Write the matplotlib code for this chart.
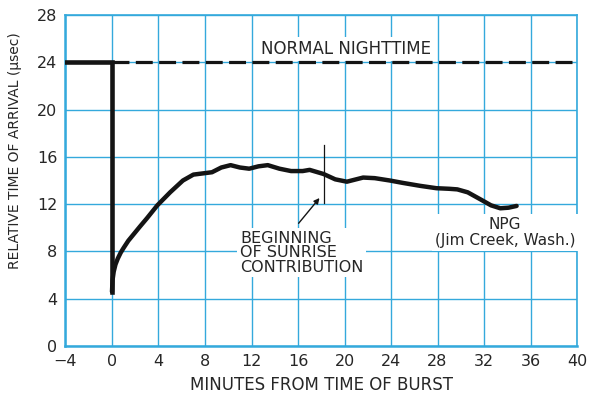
import matplotlib.pyplot as plt

# data
night_x = [0, 40]
night_y = [24, 24]

drop_x = [-4, 0, 0]
drop_y = [24, 24, 4.6]

npg_x = [0, 0.05, 0.15, 0.3, 0.5, 0.75, 1.0, 1.4, 1.9, 2.4, 3.0, 3.9, 5.0, 6.1, 7.0, 7.8, 8.6,
         9.4, 10.2, 11.0, 11.8, 12.6, 13.4, 14.4, 15.4, 16.4, 17.0, 18.2, 19.2, 20.2, 21.0, 21.6,
         22.6, 23.9, 25.0, 26.5, 27.9, 29.0, 29.7, 30.6, 31.7, 32.6, 33.4, 34.1, 34.8]
npg_y = [4.6, 5.6, 6.3, 6.9, 7.4, 7.9, 8.3, 8.9, 9.5, 10.1, 10.8, 11.9, 13.0, 14.0, 14.5, 14.6,
         14.7, 15.1, 15.3, 15.1, 15.0, 15.2, 15.3, 15.0, 14.8, 14.8, 14.9, 14.55, 14.1, 13.9, 14.1,
         14.25, 14.2, 14.0, 13.8, 13.55, 13.35, 13.3, 13.25, 13.0, 12.4, 11.9, 11.65, 11.7, 11.85]

sunrise_x = 18.2
sunrise_y = [12.1, 17.0]

blue = "#34a9dc"
ink = "#141414"
txt = "#262626"

fig = plt.figure(figsize=(5.98, 3.95), dpi=100)
ax = fig.add_axes([0.1095, 0.124, 0.8555, 0.838])

ax.set_xlim(-4, 40)
ax.set_ylim(0, 28)
ax.set_xticks(range(-4, 41, 4))
ax.set_yticks(range(0, 29, 4))
ax.set_xticklabels(["\u2212" + "4"] + [str(v) for v in range(0, 41, 4)])
ax.tick_params(length=0, labelsize=11.5, colors=txt, pad=6)
ax.grid(True, color=blue, lw=1.0)
ax.set_axisbelow(True)
for s in ax.spines.values():
    s.set_color(blue)
    s.set_linewidth(1.2)
ax.spines["bottom"].set_linewidth(1.8)
ax.spines["left"].set_linewidth(1.8)

ax.plot(night_x, night_y, color=ink, lw=2.3, dashes=(5.3, 2.0), zorder=6)
ax.plot(drop_x, drop_y, color=ink, lw=3.3, solid_joinstyle="miter", zorder=6)
ax.plot(npg_x, npg_y, color=ink, lw=3.2, solid_capstyle="round", solid_joinstyle="round", zorder=6)
ax.plot([sunrise_x, sunrise_x], sunrise_y, color=ink, lw=0.9, zorder=6)

box = dict(facecolor="white", edgecolor="none", pad=2)
ax.text(20.1, 25.1, "NORMAL NIGHTTIME", ha="center", va="center", fontsize=12,
        color=txt, bbox=box, zorder=5)
ax.text(11.0, 7.9, "BEGINNING\nOF SUNRISE\nCONTRIBUTION", ha="left", va="center",
        fontsize=11.5, color=txt, linespacing=0.95, bbox=box, zorder=5)
ax.annotate("", xy=(18.0, 12.7), xytext=(15.9, 10.2),
            arrowprops=dict(arrowstyle="-|>", color=ink, lw=1.0, mutation_scale=8), zorder=6)
ax.text(33.8, 9.6, "NPG\n(Jim Creek, Wash.)", ha="center", va="center", fontsize=11,
        color=txt, linespacing=1.05, multialignment="center", bbox=box, zorder=5)

ax.set_xlabel("MINUTES FROM TIME OF BURST", fontsize=12, color=txt, labelpad=5)
ax.set_ylabel("RELATIVE TIME OF ARRIVAL (\u03bcsec)", fontsize=10, color=txt)
ax.yaxis.set_label_coords(-0.085, 0.59)

fig.savefig("out.png", dpi=100)
